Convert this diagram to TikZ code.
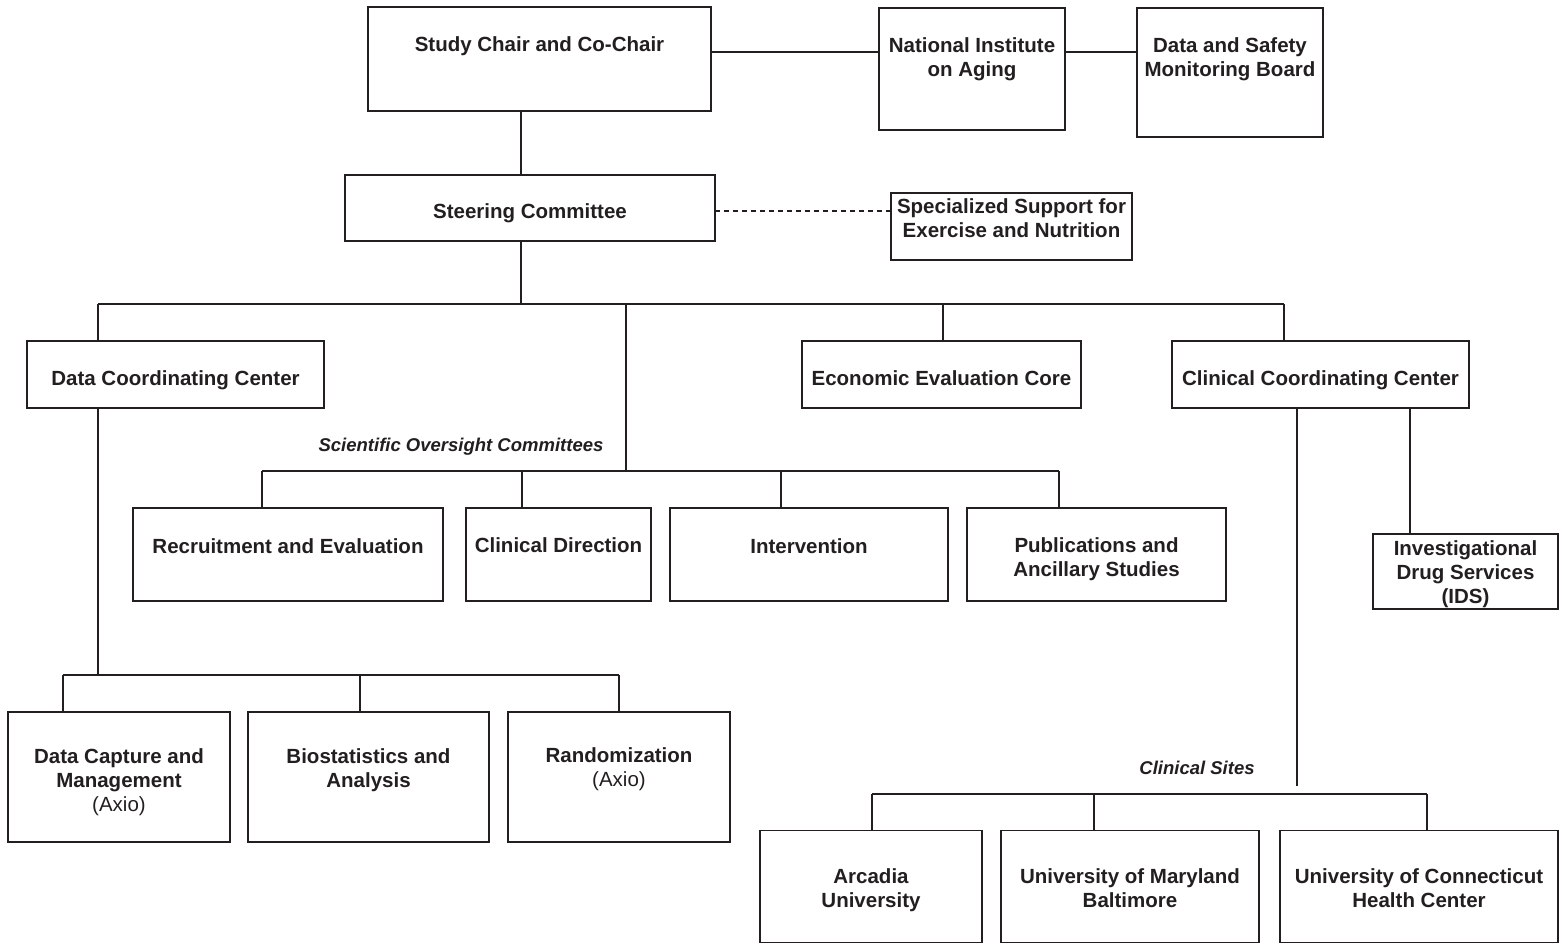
\documentclass[tikz,border=0pt]{standalone}
\usepackage{fontspec}
\setmainfont{Liberation Sans}
\definecolor{ink}{HTML}{231F20}
\begin{document}
\begin{tikzpicture}[x=1pt,y=-1pt,
  box/.style={draw=ink, line width=1.6pt, inner sep=0pt, outer sep=0pt, fill=white},
  conn/.style={draw=ink, line width=1.5pt},
  txt/.style={font=\fontsize{20.5}{24}\selectfont\bfseries, text=ink, align=center, inner sep=0pt, text depth=0pt},
  tone/.style={txt, text height=14.7pt},
  ttwo/.style={txt, text height=38.7pt},
  tthree/.style={txt, text height=62.7pt},
  grp/.style={font=\fontsize{18.5}{22}\selectfont\bfseries\itshape, text=ink, inner sep=0pt, text height=13.3pt, text depth=0pt}]
\useasboundingbox (0,0) rectangle (1562,944);
\fill[white] (0,0) rectangle (1562,944);

% boxes
\node[box, minimum width=343pt, minimum height=104pt] (sc) at (539.5,59) {};
\node[box, minimum width=186pt, minimum height=122pt] (nia) at (972,69) {};
\node[box, minimum width=186pt, minimum height=129pt] (dsmb) at (1230,72.5) {};
\node[box, minimum width=370pt, minimum height=66pt] (steer) at (530,208) {};
\node[box, minimum width=241pt, minimum height=67pt] (ssen) at (1011.5,226.5) {};
\node[box, minimum width=297pt, minimum height=67pt] (dcc) at (175.5,374.5) {};
\node[box, minimum width=279pt, minimum height=67pt] (eec) at (941.5,374.5) {};
\node[box, minimum width=297pt, minimum height=67pt] (ccc) at (1320.5,374.5) {};
\node[box, minimum width=310pt, minimum height=93pt] (rec) at (288,554.5) {};
\node[box, minimum width=185pt, minimum height=93pt] (cd) at (558.5,554.5) {};
\node[box, minimum width=278pt, minimum height=93pt] (int) at (809,554.5) {};
\node[box, minimum width=259pt, minimum height=93pt] (pub) at (1096.5,554.5) {};
\node[box, minimum width=185pt, minimum height=75pt] (ids) at (1465.5,571.5) {};
\node[box, minimum width=222pt, minimum height=130pt] (dcm) at (119,777) {};
\node[box, minimum width=241pt, minimum height=130pt] (bio) at (368.5,777) {};
\node[box, minimum width=222pt, minimum height=130pt] (rand) at (619,777) {};
\node[box, minimum width=222pt, minimum height=112pt] (arc) at (871,886.5) {};
\node[box, minimum width=258pt, minimum height=112pt] (umd) at (1130,886.5) {};
\node[box, minimum width=278pt, minimum height=112pt] (uconn) at (1419,886.5) {};

% texts
\node[tone] (tsc) at (539.5,44) {Study Chair and Co-Chair};
\node[ttwo] (tnia) at (972,57) {National Institute\\on Aging};
\node[ttwo] (tdsmb) at (1230,57) {Data and Safety\\Monitoring Board};
\node[tone] (tsteer) at (530,211) {Steering Committee};
\node[ttwo] (tssen) at (1011.5,218) {Specialized Support for\\Exercise and Nutrition};
\node[tone] (tdcc) at (175.5,378) {Data Coordinating Center};
\node[tone] (teec) at (941.5,378) {Economic Evaluation Core};
\node[tone] (tccc) at (1320.5,378) {Clinical Coordinating Center};
\node[tone] (trec) at (288,546) {Recruitment and Evaluation};
\node[tone] (tcd) at (558.5,545) {Clinical Direction};
\node[tone] (tint) at (809,546) {Intervention};
\node[ttwo] (tpub) at (1096.5,557) {Publications and\\Ancillary Studies};
\node[tthree] (tids) at (1465.5,572) {Investigational\\Drug Services\\(IDS)};
\node[tthree] (tdcm) at (119,780) {Data Capture and\\Management\\{\mdseries (Axio)}};
\node[ttwo] (tbio) at (368.5,768) {Biostatistics and\\Analysis};
\node[ttwo] (trand) at (619,767.5) {Randomization\\{\mdseries (Axio)}};
\node[ttwo] (tarc) at (871,888) {Arcadia\\University};
\node[ttwo] (tumd) at (1130,888) {University of Maryland\\Baltimore};
\node[ttwo] (tuconn) at (1419,888) {University of Connecticut\\Health Center};

% group labels
\node[grp] (lsoc) at (461,445) {Scientific Oversight Committees};
\node[grp] (lcs) at (1197,768) {Clinical Sites};

% bus coordinates
\coordinate (b0) at (521,304);
\coordinate (b1) at (98,304);
\coordinate (b2) at (626,304);
\coordinate (b3) at (943,304);
\coordinate (b4) at (1284,304);
\coordinate (s0) at (626,471);
\coordinate (s1) at (262,471);
\coordinate (s2) at (522,471);
\coordinate (s3) at (781,471);
\coordinate (s4) at (1059,471);
\coordinate (d0) at (98,675);
\coordinate (d1) at (63,675);
\coordinate (d2) at (360,675);
\coordinate (d3) at (619,675);
\coordinate (c0) at (1297,786);
\coordinate (c1) at (872,794);
\coordinate (c2) at (1094,794);
\coordinate (c3) at (1427,794);

% connectors
\draw[conn] (sc.east |- 0,52) -- (nia.west |- 0,52);
\draw[conn] (nia.east |- 0,52) -- (dsmb.west |- 0,52);
\draw[conn] (sc.south -| b0) -- (steer.north -| b0);
\draw[conn] (steer.south -| b0) -- (b0);
\draw[conn, dashed, dash pattern=on 5pt off 4pt] (steer.east |- 0,211) -- (ssen.west |- 0,211);
\draw[conn] (b1) -- (b4);
\draw[conn] (b1) -- (dcc.north -| b1);
\draw[conn] (b3) -- (eec.north -| b3);
\draw[conn] (b4) -- (ccc.north -| b4);
\draw[conn] (b2) -- (s0);
\draw[conn] (s1) -- (s4);
\draw[conn] (s1) -- (rec.north -| s1);
\draw[conn] (s2) -- (cd.north -| s2);
\draw[conn] (s3) -- (int.north -| s3);
\draw[conn] (s4) -- (pub.north -| s4);
\draw[conn] (dcc.south -| d0) -- (d0);
\draw[conn] (d1) -- (d3);
\draw[conn] (d1) -- (dcm.north -| d1);
\draw[conn] (d2) -- (bio.north -| d2);
\draw[conn] (d3) -- (rand.north -| d3);
\draw[conn] (ccc.south -| 1410,0) -- (ids.north -| 1410,0);
\draw[conn] (ccc.south -| c0) -- (c0);
\draw[conn] (c1) -- (c3);
\draw[conn] (c1) -- (arc.north -| c1);
\draw[conn] (c2) -- (umd.north -| c2);
\draw[conn] (c3) -- (uconn.north -| c3);
\end{tikzpicture}
\end{document}
